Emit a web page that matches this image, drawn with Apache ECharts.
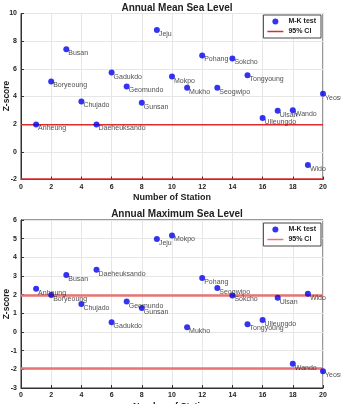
<!DOCTYPE html>
<html><head><meta charset="utf-8">
<script src="https://cdn.jsdelivr.net/npm/echarts@6/dist/echarts.min.js"></script>
<style>html,body{margin:0;padding:0;background:#fff}#c{width:341px;height:404px}</style>
</head><body><div id="c"></div>
<script>
const stations = ['Anheung','Boryeoung','Busan','Chujado','Daeheuksando','Gadukdo','Geomundo','Gunsan','Jeju','Mokpo','Mukho','Pohang','Seogwipo','Sokcho','Tongyoung','Ulleungdo','Ulsan','Wando','Wido','Yeosu'];
const meanZ = [1.98,5.09,7.41,3.64,1.98,5.73,4.73,3.55,8.8,5.44,4.63,6.97,4.63,6.75,5.53,2.45,2.97,3.0,-0.95,4.2];
const maxZ  = [2.32,1.98,3.05,1.5,3.34,0.52,1.63,1.29,4.98,5.17,0.25,2.89,2.36,1.96,0.41,0.64,1.84,-1.7,2.05,-2.1];
const ciUpper = 1.96, ciLower = -1.96;
const titles = ['Annual Mean Sea Level','Annual Maximum Sea Level'];
const yName = 'Z-score';

const FONT = 'Liberation Sans';
const pts = arr => arr.map((v,i)=>[i+1, v, stations[i]]);
function xAx(gi){ return {gridIndex:gi,type:'value',min:0,max:20,interval:2,
  name:'Number of Station',nameLocation:'middle',nameGap:14,
  nameTextStyle:{fontFamily:FONT,fontWeight:'bold',fontSize:9,color:'#222'},
  axisLine:{onZero:false,lineStyle:{color:'#333',width:1}},axisTick:{inside:true,length:3,lineStyle:{color:'#333'}},
  axisLabel:{fontFamily:FONT,fontWeight:'bold',fontSize:7,color:'#222',margin:4},
  splitLine:{show:true,lineStyle:{color:'#e6e6e6',width:1}}};}
function yAx(gi,min,max,iv){ return {gridIndex:gi,type:'value',min:min,max:max,interval:iv,
  axisLine:{show:true,onZero:false,lineStyle:{color:'#333',width:1}},axisTick:{show:true,inside:true,length:3,lineStyle:{color:'#333'}},
  axisLabel:{fontFamily:FONT,fontWeight:'bold',fontSize:7,color:'#222',margin:4},
  splitLine:{show:true,lineStyle:{color:'#e6e6e6',width:1}}};}
function scat(gi,arr){ return {name:'M-K test',type:'scatter',xAxisIndex:gi,yAxisIndex:gi,
  data:pts(arr),symbolSize:6,itemStyle:{color:'#0000ee'},z:5,
  label:{show:true,position:'right',distance:-1,offset:[0,4],formatter:p=>p.data[2],
    fontFamily:FONT,fontSize:7,color:'#222'}};}
function ci(gi,v,color,w){ return {name:'95% CI',type:'line',xAxisIndex:gi,yAxisIndex:gi,
  data:[[0,v],[20,v]],symbol:'none',lineStyle:{color:color,width:w},itemStyle:{color:color},z:3,silent:true};}
function leg(top,color){ return {top:top,right:20,orient:'vertical',
  data:[{name:'M-K test',icon:'circle'},{name:'95% CI',icon:'path://M0,0L16,0L16,1.5L0,1.5Z',itemStyle:{color:color}}],
  backgroundColor:'#fff',borderColor:'#444',borderWidth:1,padding:[3,5,3,4],itemGap:3,
  itemWidth:16,itemHeight:6,textStyle:{fontFamily:FONT,fontWeight:'bold',fontSize:7,color:'#222'}};}
function yLabel(cy){ return {type:'text',x:7,y:cy,rotation:Math.PI/2,
  style:{text:yName,x:0,y:0,align:'center',verticalAlign:'middle',font:'bold 8.5px "Liberation Sans"',fill:'#222'}};}

const chart = echarts.init(document.getElementById('c'),null,{renderer:'canvas'});
chart.setOption({
  animation:false,
  title:[
    {text:titles[0],left:172,top:-2,textAlign:'center',textStyle:{fontFamily:FONT,fontWeight:'bold',fontSize:10,color:'#222'}},
    {text:titles[1],left:172,top:204,textAlign:'center',textStyle:{fontFamily:FONT,fontWeight:'bold',fontSize:10,color:'#222'}}
  ],
  legend:[leg(15,'#e02a2a'),leg(223,'#e87474')],
  grid:[
    {left:21,right:18,top:13.5,height:166,outerBoundsMode:'none',containLabel:false,show:true,borderColor:'#333',borderWidth:1,backgroundColor:'#fff'},
    {left:21,right:18,top:220,height:168,outerBoundsMode:'none',containLabel:false,show:true,borderColor:'#333',borderWidth:1,backgroundColor:'#fff'}
  ],
  graphic:[yLabel(96),yLabel(304)],
  xAxis:[xAx(0),xAx(1)],
  yAxis:[yAx(0,-2,10,2),yAx(1,-3,6,1)],
  series:[
    scat(0,meanZ), ci(0,ciUpper,'#e02a2a',1.5), ci(0,ciLower,'#e02a2a',1.5),
    scat(1,maxZ), ci(1,ciUpper,'#e87474',2.5), ci(1,ciLower,'#e87474',2.5)
  ]
});
</script></body></html>
